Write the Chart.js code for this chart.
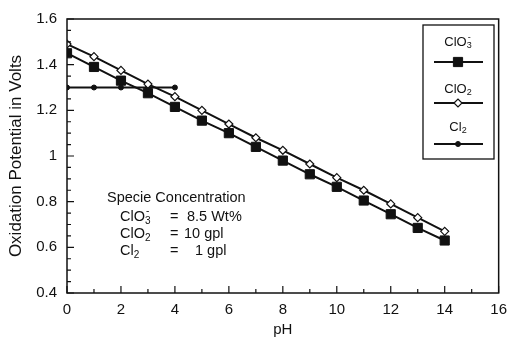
<!DOCTYPE html>
<html>
<head>
<meta charset="utf-8">
<script src="https://cdn.jsdelivr.net/npm/chart.js@4"></script>
<style>
  html, body { margin: 0; padding: 0; background: #fff; }
  #wrap { width: 515px; height: 337px; }
</style>
</head>
<body>
<div id="wrap"><canvas id="chart"></canvas></div>
<script>
// pH points and oxidation potentials (V)
const phValues = [0, 1, 2, 3, 4, 5, 6, 7, 8, 9, 10, 11, 12, 13, 14];
const chlorate = [1.45, 1.39, 1.33, 1.275, 1.215, 1.155, 1.10, 1.04, 0.98, 0.92, 0.865, 0.805, 0.745, 0.685, 0.63];
const chlorineDioxide = [1.49, 1.435, 1.375, 1.315, 1.26, 1.20, 1.14, 1.08, 1.025, 0.965, 0.905, 0.85, 0.79, 0.73, 0.67];
const chlorinePh = [0, 1, 2, 3, 4];
const chlorine = [1.30, 1.30, 1.30, 1.30, 1.30];

const xTicks = [0, 2, 4, 6, 8, 10, 12, 14, 16];
const yTicks = [0.4, 0.6, 0.8, 1, 1.2, 1.4, 1.6];

const FONT = "'Liberation Sans', Arial, Helvetica, sans-serif";
const INK = '#111';

function toPoints(xs, ys) {
    return ys.map((y, i) => ({ x: xs[i], y: y }));
}

// draws text pieces with sub/superscripts, returns width
function drawRich(ctx, x, y, parts, size, measureOnly) {
    let cx = x;
    parts.forEach(p => {
        if (p.sub !== undefined || p.sup !== undefined) {
            ctx.font = Math.round(size * 0.68) + 'px ' + FONT;
            let w = 0;
            if (p.sub !== undefined) {
                if (!measureOnly) ctx.fillText(p.sub, cx, y + size * 0.3);
                w = Math.max(w, ctx.measureText(p.sub).width);
            }
            if (p.sup !== undefined) {
                if (!measureOnly) ctx.fillText(p.sup, cx + 1, y - size * 0.38);
                w = Math.max(w, ctx.measureText(p.sup).width + 1);
            }
            cx += w;
        } else {
            ctx.font = size + 'px ' + FONT;
            if (!measureOnly) ctx.fillText(p.t, cx, y);
            cx += ctx.measureText(p.t).width;
        }
    });
    return cx - x;
}

const labelClO3 = [{ t: 'ClO' }, { sub: '3', sup: '-' }];
const labelClO2 = [{ t: 'ClO' }, { sub: '2' }];
const labelCl2 = [{ t: 'Cl' }, { sub: '2' }];

// frame, inward ticks, legend box and concentration note
const decorations = {
    id: 'decorations',
    afterDraw(chart) {
        const ctx = chart.ctx;
        const a = chart.chartArea;
        const xs = chart.scales.x;
        const ys = chart.scales.y;
        ctx.save();
        ctx.strokeStyle = INK;
        ctx.fillStyle = INK;

        // frame
        ctx.lineWidth = 1.5;
        ctx.strokeRect(a.left, a.top, a.right - a.left, a.bottom - a.top);

        // ticks
        ctx.lineWidth = 1.2;
        ctx.beginPath();
        for (let v = 0; v <= 16; v++) {
            const px = xs.getPixelForValue(v);
            const len = v % 2 === 0 ? 7 : 4;
            ctx.moveTo(px, a.bottom);
            ctx.lineTo(px, a.bottom - len);
        }
        for (let k = 0; k <= 24; k++) {
            const v = 0.4 + k * 0.05;
            const py = ys.getPixelForValue(v);
            const len = k % 4 === 0 ? 7 : 4;
            ctx.moveTo(a.left, py);
            ctx.lineTo(a.left + len, py);
        }
        ctx.stroke();

        // legend box
        const lx = 423, ly = 25, lw = 71, lh = 134;
        ctx.lineWidth = 1.3;
        ctx.strokeRect(lx, ly, lw, lh);
        ctx.textBaseline = 'middle';
        ctx.textAlign = 'left';
        const cx = 458;
        const rows = [
            { label: labelClO3, ty: 42, ly: 62, ds: 0 },
            { label: labelClO2, ty: 89, ly: 103, ds: 1 },
            { label: labelCl2, ty: 127, ly: 144, ds: 2 }
        ];
        rows.forEach(r => {
            const w = drawRich(ctx, 0, 0, r.label, 13, true);
            drawRich(ctx, cx - w / 2, r.ty, r.label, 13, false);
            ctx.lineWidth = 2;
            ctx.beginPath();
            ctx.moveTo(434, r.ly);
            ctx.lineTo(483, r.ly);
            ctx.stroke();
            const d = chart.data.datasets[r.ds];
            ctx.lineWidth = d.pointBorderWidth;
            ctx.fillStyle = d.pointBackgroundColor;
            Chart.helpers.drawPoint(ctx, {
                pointStyle: d.pointStyle,
                radius: d.pointRadius,
                rotation: 0,
                borderWidth: d.pointBorderWidth
            }, cx, r.ly);
            ctx.fillStyle = INK;
        });

        // concentration note
        const ns = 14.5;
        ctx.fillStyle = INK;
        ctx.font = ns + 'px ' + FONT;
        ctx.fillText('Specie Concentration', 107, 198);
        drawRich(ctx, 120, 217, labelClO3, ns, false);
        drawRich(ctx, 120, 234, labelClO2, ns, false);
        drawRich(ctx, 120, 251, labelCl2, ns, false);
        ctx.font = ns + 'px ' + FONT;
        ctx.fillText('=', 170, 217);
        ctx.fillText('8.5 Wt%', 187, 217);
        ctx.fillText('=', 170, 234);
        ctx.fillText('10 gpl', 184, 234);
        ctx.fillText('=', 170, 251);
        ctx.fillText('1 gpl', 195, 251);
        ctx.restore();
    }
};

new Chart(document.getElementById('chart'), {
    type: 'line',
    data: {
        datasets: [{
            label: 'ClO3-',
            data: toPoints(phValues, chlorate),
            borderColor: INK,
            borderWidth: 2,
            pointStyle: 'rect',
            pointRadius: 6.5,
            pointBackgroundColor: INK,
            pointBorderColor: INK,
            pointBorderWidth: 1,
            tension: 0
        }, {
            label: 'ClO2',
            data: toPoints(phValues, chlorineDioxide),
            borderColor: INK,
            borderWidth: 2,
            pointStyle: 'rectRot',
            pointRadius: 4,
            pointBackgroundColor: '#fff',
            pointBorderColor: INK,
            pointBorderWidth: 1.2,
            tension: 0
        }, {
            label: 'Cl2',
            data: toPoints(chlorinePh, chlorine),
            borderColor: INK,
            borderWidth: 2,
            pointStyle: 'circle',
            pointRadius: 2.5,
            pointBackgroundColor: INK,
            pointBorderColor: INK,
            pointBorderWidth: 1,
            tension: 0
        }]
    },
    options: {
        responsive: true,
        maintainAspectRatio: false,
        animation: false,
        layout: { padding: { top: 15, right: 8, left: 0, bottom: 0 } },
        plugins: {
            legend: { display: false },
            tooltip: { enabled: false }
        },
        scales: {
            x: {
                type: 'linear',
                min: 0,
                max: 16,
                afterBuildTicks: s => { s.ticks = xTicks.map(v => ({ value: v })); },
                afterFit: s => { s.height = 44; },
                grid: { display: false, drawTicks: false },
                border: { display: false },
                ticks: {
                    padding: 8,
                    color: INK,
                    font: { family: FONT, size: 15 },
                    callback: v => String(v)
                },
                title: {
                    display: true,
                    text: 'pH',
                    color: INK,
                    font: { family: FONT, size: 15, lineHeight: 1 },
                    padding: { top: 0, bottom: 0 }
                }
            },
            y: {
                min: 0.4,
                max: 1.6,
                afterBuildTicks: s => { s.ticks = yTicks.map(v => ({ value: v })); },
                afterFit: s => { s.width = 67; },
                grid: { display: false, drawTicks: false },
                border: { display: false },
                ticks: {
                    padding: 10,
                    color: INK,
                    font: { family: FONT, size: 15 },
                    callback: v => String(v)
                },
                title: {
                    display: true,
                    text: 'Oxidation Potential in Volts',
                    color: INK,
                    font: { family: FONT, size: 17, lineHeight: 1.2 },
                    padding: { top: 6, bottom: 0 }
                }
            }
        }
    },
    plugins: [decorations]
});
</script>
</body>
</html>
